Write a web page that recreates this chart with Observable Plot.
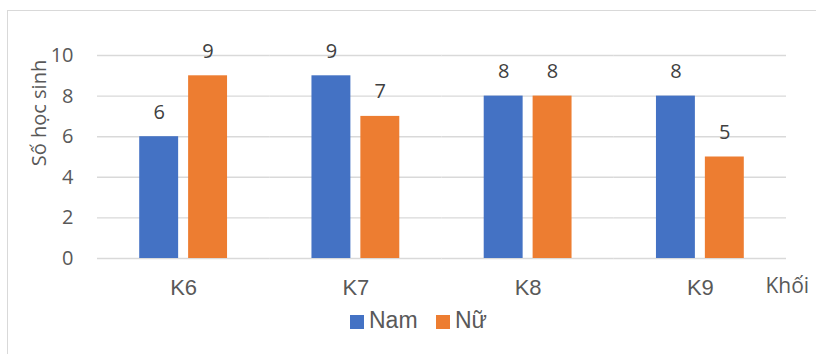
<!DOCTYPE html>
<html>
<head>
<meta charset="utf-8">
<script src="https://cdn.jsdelivr.net/npm/d3@7"></script>
<script src="https://cdn.jsdelivr.net/npm/@observablehq/plot@0.6"></script>
<style>
  html, body { margin: 0; padding: 0; background: #fff; }
  #wrap { position: relative; width: 816px; height: 354px; overflow: hidden; background: #fff; }
  #border { position: absolute; left: 7px; top: 10px; width: 830px; height: 370px; border: 1.5px solid #d9d9d9; box-sizing: border-box; }
  #chart { position: absolute; left: 0; top: 0; }
  .lg { position: absolute; font-family: "Liberation Sans", Arial, sans-serif; font-size: 23px; line-height: 22px; color: #595959; white-space: nowrap; }
  .sw { position: absolute; width: 14px; height: 14px; }
</style>
</head>
<body>
<div id="wrap">
  <div id="border"></div>
  <div id="chart"></div>
  <div id="legend"></div>
</div>
<script>
const categories = ["K6", "K7", "K8", "K9"];
const series = ["Nam", "Nữ"];
const namValues = [6, 9, 8, 8];
const nuValues = [9, 7, 8, 5];
const yTicks = [0, 2, 4, 6, 8, 10];
const colors = ["#4472C4", "#ED7D31"];
const yTitle = "Số học sinh";
const xTitle = "Khối";

const data = categories.flatMap((k, i) => [
  {khoi: k, gioi: series[0], v: namValues[i]},
  {khoi: k, gioi: series[1], v: nuValues[i]}
]);

const chart = Plot.plot({
  width: 816,
  height: 300,
  marginLeft: 97,
  marginRight: 30,
  marginTop: 55,
  marginBottom: 42,
  style: {fontFamily: "'Open Sans', sans-serif", fontSize: "20px", color: "#595959", background: "transparent", overflow: "visible"},
  fx: {domain: categories, padding: 0, round: false, label: null},
  x: {domain: series, paddingInner: 0.204, paddingOuter: 0.863, round: false, axis: null},
  y: {domain: [0, 10], label: null},
  color: {domain: series, range: colors},
  marks: [
    Plot.gridY(yTicks, {stroke: "#d9d9d9", strokeOpacity: 1, strokeWidth: 1.4}),
    Plot.axisY(yTicks, {tickSize: 0, tickPadding: 24, label: null, fontSize: 20, fill: "#595959"}),
    Plot.axisFx({anchor: "bottom", tickSize: 0, tickPadding: 21, label: null, fontSize: 22, fontFamily: "'Liberation Sans', Arial, sans-serif", fill: "#595959"}),
    Plot.barY(data, {fx: "khoi", x: "gioi", y: "v", fill: "gioi"}),
    Plot.text(data, {fx: "khoi", x: "gioi", y: "v", text: "v", dy: -18, lineAnchor: "bottom", fontSize: 20, fill: "#404040"}),
    Plot.text([xTitle], {facet: "super", frameAnchor: "bottom-right", text: d => d, textAnchor: "start", lineAnchor: "bottom", dx: -21, dy: 34, fontSize: 21, fill: "#595959"}),
    Plot.text([yTitle], {facet: "super", frameAnchor: "left", text: d => d, rotate: -90, textAnchor: "middle", lineAnchor: "middle", dx: -58, dy: -44, fontSize: 20, fill: "#595959"})
  ]
});
document.getElementById("chart").appendChild(chart);

// legend
const legend = document.getElementById("legend");
const lgPos = [{sw: 350, tx: 369}, {sw: 436, tx: 455}];
series.forEach((s, i) => {
  const sw = document.createElement("div");
  sw.className = "sw";
  sw.style.left = lgPos[i].sw + "px";
  sw.style.top = "315px";
  sw.style.background = colors[i];
  legend.appendChild(sw);
  const t = document.createElement("div");
  t.className = "lg";
  t.style.left = lgPos[i].tx + "px";
  t.style.top = "309px";
  t.textContent = s;
  legend.appendChild(t);
});
</script>
</body>
</html>
